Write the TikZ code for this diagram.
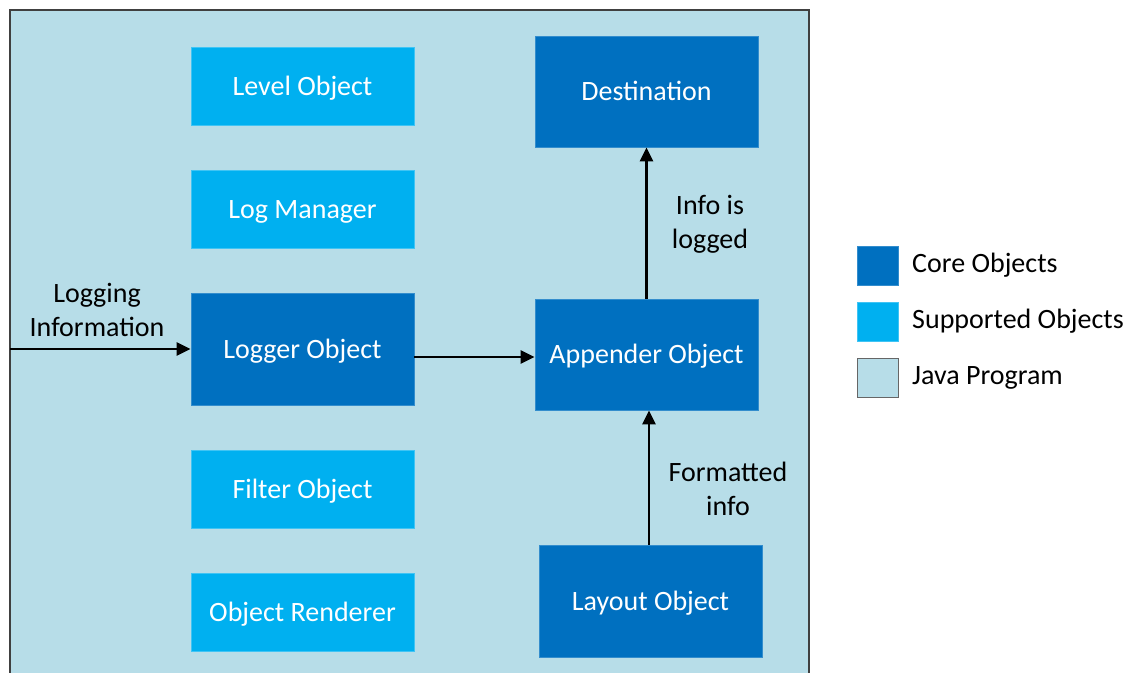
\documentclass[tikz,border=0pt]{standalone}
\usepackage{fontspec}
\setmainfont{Carlito}
\usetikzlibrary{arrows.meta}
\definecolor{coreblue}{HTML}{0070C0}
\definecolor{supblue}{HTML}{00B0F0}
\definecolor{javabg}{HTML}{B7DDE8}
\definecolor{frameline}{HTML}{404040}
\tikzset{
  x=1pt, y=-1pt,
  txt/.style={font=\fontsize{28}{34}\selectfont, align=center, inner sep=0pt},
  boxtxt/.style={txt, text height=21pt, text depth=3pt},
  corebox/.style={boxtxt, fill=coreblue, draw=coreblue!80!white, line width=0.8pt,
    text=white, minimum width=223pt, minimum height=111pt},
  supbox/.style={boxtxt, fill=supblue, draw=supblue!75!white, line width=0.8pt,
    text=white, minimum width=223pt, minimum height=78pt},
  flow/.style={line width=2.8pt, -{Triangle[length=14pt,width=13pt]}},
  lbl/.style={txt, text=black},
  swatch/.style={minimum width=41pt, minimum height=39pt, inner sep=0pt, line width=0.8pt},
}
\begin{document}
\begin{tikzpicture}
\useasboundingbox (0,0) rectangle (1140,672);
\clip (0,0) rectangle (1140,672);

% Java program area
\draw[fill=javabg, draw=frameline, line width=1.2pt] (10,10) rectangle (809,700);

% supported objects
\node[supbox] (level)    at (302.5,86)  {Level Object};
\node[supbox] (manager)  at (302.5,209) {Log Manager};
\node[supbox] (filter)   at (302.5,489) {Filter Object};
\node[supbox] (renderer) at (302.5,612) {Object Renderer};

% core objects
\node[corebox, minimum height=112pt] (logger) at (302.5,349) {Logger Object};
\node[corebox] (dest)     at (646.5,91.5)  {Destination};
\node[corebox] (appender) at (646.5,354.5) {Appender Object};
\node[corebox, minimum height=112pt] (layout) at (650.5,601) {Layout Object};

% flow of logging information
\coordinate (src) at (10,349);
\coordinate (lo) at ([yshift=-8pt]logger.east);
\draw[flow] (src) -- (logger.west);
\draw[flow] (lo) -- (lo -| appender.west);
\draw[flow] (appender.north) -- (dest.south);
\draw[flow] ([xshift=-1.5pt]layout.north) -- ([xshift=-1.5pt]layout.north |- appender.south);

% connector labels
\node[lbl] (l1) at (97,310)  {Logging\\Information};
\node[lbl] (l2) at (710,224) {Info is\\logged};
\node[lbl] (l3) at (728,489) {Formatted\\info};

% legend
\node[swatch, fill=coreblue, draw=coreblue!80!white] (kcore) at (877.5,265.5) {};
\node[swatch, fill=supblue, draw=supblue!75!white]   (ksup)  at (877.5,321.5) {};
\node[swatch, fill=javabg, draw=frameline!80]        (kjava) at (877.5,377.5) {};
\node[lbl, anchor=west] (tcore) at (912,265.5) {Core Objects};
\node[lbl, anchor=west] (tsup)  at (912,321.5) {Supported Objects};
\node[lbl, anchor=west] (tjava) at (912,377.5) {Java Program};
\end{tikzpicture}
\end{document}
